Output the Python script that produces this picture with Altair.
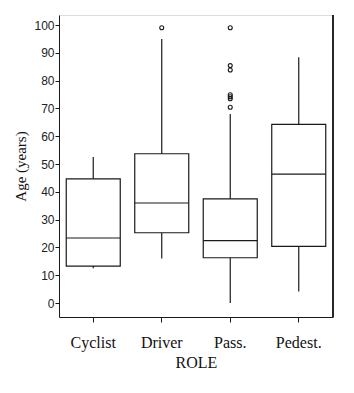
import altair as alt
import pandas as pd

roles = ["Cyclist", "Driver", "Pass.", "Pedest."]
whisker_low = [12.5, 16, 0, 4.2]
q1 = [13.3, 25.3, 16.3, 20.4]
median = [23.4, 36, 22.5, 46.4]
q3 = [44.7, 53.7, 37.5, 64.3]
whisker_high = [52.5, 95, 68, 88.4]
outlier_roles = ["Driver", "Pass.", "Pass.", "Pass.", "Pass.", "Pass.", "Pass.", "Pass."]
outlier_ages = [99, 99, 85.4, 83.8, 74.9, 74.2, 73.5, 70.4]
y_ticks = [0, 10, 20, 30, 40, 50, 60, 70, 80, 90, 100]

box_df = pd.DataFrame({"role": roles, "lo": whisker_low, "q1": q1, "med": median,
                       "q3": q3, "hi": whisker_high})
out_df = pd.DataFrame({"role": outlier_roles, "age": outlier_ages})

W, H = 274, 302
INK = "#1a1a1a"
SERIF = "Liberation Serif"
SANS = "Liberation Sans Narrow, Liberation Sans, Arial"

x_axis = alt.Axis(title="ROLE", labelAngle=0, tickSize=5, tickColor=INK,
                  domainColor=INK, labelFont=SERIF, labelFontSize=16,
                  labelColor="#111", labelBaseline="alphabetic", labelPadding=25,
                  titleFont=SERIF, titleFontSize=16, titleFontWeight="normal",
                  titleColor="#111", titleBaseline="alphabetic",
                  titleX=W / 2, titleY=50, titleAlign="center", grid=False)
x_scale = alt.Scale(domain=roles, paddingInner=0, paddingOuter=0)
y_scale = alt.Scale(domain=[-5, 103.6], nice=False, zero=False)
y_axis = alt.Axis(title="Age (years)", values=y_ticks, tickCount=11, tickSize=4,
                  tickColor=INK, domainColor=INK, labelFont=SANS, labelFontSize=12,
                  labelColor="#222", labelOverlap=False, labelFlush=False,
                  labelPadding=1, titleFont=SERIF, titleFontSize=15,
                  titleFontWeight="normal", titleColor="#111", titleAngle=-90,
                  titleBaseline="bottom", titleAlign="center", titleX=-31, titleY=H / 2,
                  grid=False)


def X():
    return alt.X("role:N", sort=roles, scale=x_scale, axis=x_axis)


def Y(field):
    return alt.Y(field, scale=y_scale, axis=y_axis, title="Age (years)")


base = alt.Chart(box_df)
whiskers = base.mark_rule(color=INK, strokeWidth=1.2).encode(
    x=X(), y=Y("lo:Q"), y2="hi:Q")
boxes = base.mark_bar(size=54, fill="white", stroke=INK, strokeWidth=1.2).encode(
    x=X(), y=Y("q1:Q"), y2="q3:Q")
medians = base.mark_tick(size=54, thickness=1.2, color=INK, opacity=1).encode(
    x=X(), y=Y("med:Q"))
outliers = alt.Chart(out_df).mark_point(size=16, filled=False, color=INK,
                                        strokeWidth=1.1, opacity=1).encode(
    x=X(), y=Y("age:Q"))
right_line = alt.Chart(box_df).mark_rule(color=INK, strokeWidth=1).encode(
    x=alt.value(W), y=alt.value(0), y2=alt.value(H))

chart = alt.layer(whiskers, boxes, medians, outliers, right_line).properties(
    width=W, height=H,
    autosize=alt.AutoSizeParams(type="none"),
    padding={"left": 59, "top": 15, "right": 21, "bottom": 76},
).configure_view(stroke=None).configure(background="white")

chart.save("out.html", embed_options={"renderer": "svg", "actions": False})
